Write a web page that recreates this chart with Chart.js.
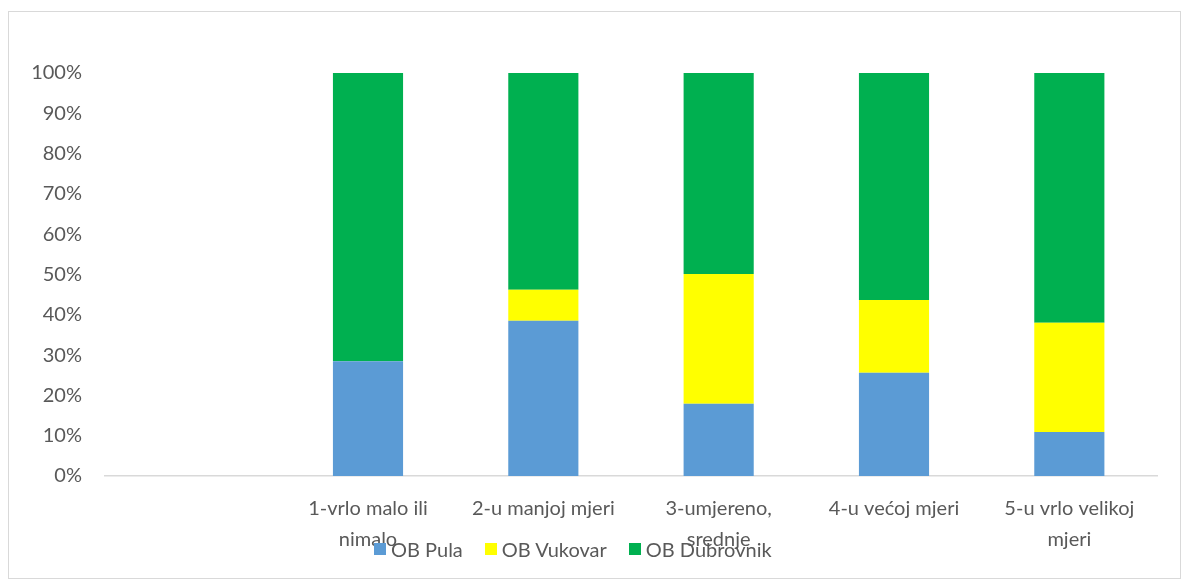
<!DOCTYPE html>
<html>
<head>
<meta charset="utf-8">
<script src="https://cdn.jsdelivr.net/npm/chart.js@4/dist/chart.umd.min.js"></script>
<style>
    body { margin: 0; background: #fff; font-family: Lato, sans-serif; }
    #wrap { position: relative; width: 1182px; height: 581px; }
    #frame { position: absolute; left: 8px; top: 11px; width: 1171px; height: 566px; border: 1px solid #d9d9d9; pointer-events: none; }
    #legend { position: absolute; left: 374px; top: 537px; display: flex; align-items: center; color: #595959; font-size: 20px; }
    .item { display: flex; align-items: center; margin-right: 22px; }
    .box { width: 12px; height: 12px; margin-right: 5px; }
</style>
</head>
<body>
<div id="wrap">
    <canvas id="chart" width="1182" height="581"></canvas>
    <div id="frame"></div>
    <div id="legend"></div>
</div>
<script>
// kategorije (prva je prazna)
const categories = [
    '',
    ['1-vrlo malo ili', 'nimalo'],
    '2-u manjoj mjeri',
    ['3-umjereno,', 'srednje'],
    '4-u većoj mjeri',
    ['5-u vrlo velikoj', 'mjeri']
];

const seriesNames = ['OB Pula', 'OB Vukovar', 'OB Dubrovnik'];
const seriesColors = ['#5B9BD5', '#FFFF00', '#00B050'];

// postoci
const pula = [null, 28.5, 38.5, 17.9, 25.6, 10.9];
const vukovar = [null, 0, 7.7, 32.2, 18.1, 27.1];
const dubrovnik = [null, 71.5, 53.8, 49.9, 56.3, 62.0];

const yTicks = [0, 10, 20, 30, 40, 50, 60, 70, 80, 90, 100];

const textColor = '#595959';

const ctx = document.getElementById('chart').getContext('2d');

new Chart(ctx, {
    type: 'bar',
    data: {
        labels: categories,
        datasets: [pula, vukovar, dubrovnik].map((values, i) => ({
            label: seriesNames[i],
            data: values,
            backgroundColor: seriesColors[i],
            borderWidth: 0,
            categoryPercentage: 1,
            barPercentage: 0.4
        }))
    },
    options: {
        responsive: false,
        animation: false,
        layout: {
            padding: { top: 73, right: 25, left: 0, bottom: 0 }
        },
        plugins: {
            legend: { display: false },
            tooltip: { enabled: false }
        },
        scales: {
            x: {
                stacked: true,
                grid: { display: false, drawTicks: false },
                border: { color: '#d9d9d9', width: 1.5 },
                ticks: {
                    color: textColor,
                    font: { family: 'Lato', size: 20, lineHeight: 1.55 },
                    padding: 17,
                    maxRotation: 0,
                    autoSkip: false
                },
                afterFit: scale => { scale.height = 105; }
            },
            y: {
                stacked: true,
                min: 0,
                max: 100,
                grid: { display: false, drawTicks: false },
                border: { display: false },
                afterBuildTicks: scale => {
                    scale.ticks = yTicks.map(v => ({ value: v }));
                },
                ticks: {
                    color: textColor,
                    font: { family: 'Lato', size: 20 },
                    padding: 23,
                    callback: v => v + '%'
                },
                afterFit: scale => { scale.width = 105; }
            }
        }
    }
});

// legenda
const legend = document.getElementById('legend');
seriesNames.forEach((name, i) => {
    const item = document.createElement('div');
    item.className = 'item';
    item.innerHTML = `<span class="box" style="background:${seriesColors[i]}"></span><span>${name}</span>`;
    legend.appendChild(item);
});
</script>
</body>
</html>
